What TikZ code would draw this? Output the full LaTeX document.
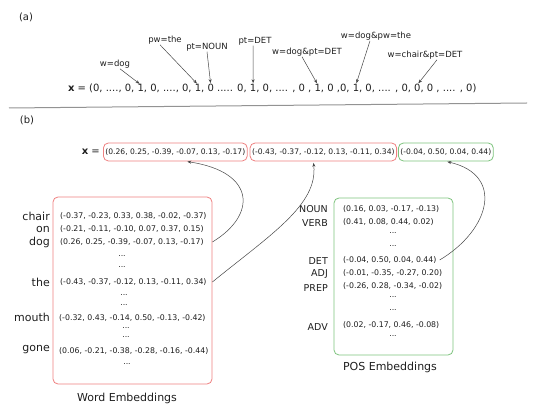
\documentclass[tikz,border=0pt]{standalone}
\usepackage{fontspec}
\setmainfont{DejaVu Sans}
\usetikzlibrary{arrows.meta}
\definecolor{wred}{RGB}{238,128,128}
\definecolor{wgreen}{RGB}{125,195,125}
\definecolor{txt}{RGB}{30,30,30}
\definecolor{arr}{RGB}{70,70,70}
\begin{document}
\begin{tikzpicture}[x=1pt,y=-1pt,
  lab/.style={font=\fontsize{8.5}{10}\selectfont, inner sep=0.5pt, text=txt},
  seg/.style={font=\fontsize{10}{12}\selectfont, inner sep=0pt, outer sep=0pt, anchor=base west, text=txt},
  ptr/.style={draw=arr, line width=0.5pt, -{Stealth[length=4pt,width=3pt]}, shorten >=1.5pt},
  vec/.style={font=\fontsize{7.8}{9}\selectfont, inner sep=0pt, text=txt, anchor=west},
  dotsn/.style={font=\fontsize{7.8}{9}\selectfont, inner sep=0pt, text=txt},
  wlab/.style={font=\fontsize{11}{12}\selectfont, inner sep=0pt, anchor=east, text=txt},
  plab/.style={font=\fontsize{9.5}{11}\selectfont, inner sep=0pt, anchor=east, text=txt},
  title/.style={font=\fontsize{11}{12}\selectfont, inner sep=0pt, text=txt},
  panel/.style={font=\fontsize{10}{12}\selectfont, inner sep=0pt, text=txt},
  redbox/.style={draw=wred, line width=0.8pt, rounded corners=5pt},
  greenbox/.style={draw=wgreen, line width=0.8pt, rounded corners=5pt},
  vbox/.style={font=\fontsize{7.6}{9}\selectfont, inner xsep=2pt, inner ysep=0pt, minimum height=18pt, text=txt, anchor=west},
]
\useasboundingbox (0,0) rectangle (538,419);

% ---------- panel (a)
\node[panel] (pa) at (26,17) {(a)};
\node[seg] (s0) at (68,92) {\textbf{x} = (0, ...., 0, \mbox{}};
\node[seg] (t1) at (s0.base east) {1};
\node[seg] (s1) at (t1.base east) {, 0, ...., 0, \mbox{}};
\node[seg] (t2) at (s1.base east) {1};
\node[seg] (s2) at (t2.base east) {, \mbox{}};
\node[seg] (t3) at (s2.base east) {0};
\node[seg] (s3) at (t3.base east) {\mbox{} ..... 0, \mbox{}};
\node[seg] (t4) at (s3.base east) {1};
\node[seg] (s4) at (t4.base east) {, 0, .... , 0 , \mbox{}};
\node[seg] (t5) at (s4.base east) {1};
\node[seg] (s5) at (t5.base east) {, 0 ,0, \mbox{}};
\node[seg] (t6) at (s5.base east) {1};
\node[seg] (s6) at (t6.base east) {, 0, .... , 0, \mbox{}};
\node[seg] (t7) at (s6.base east) {0};
\node[seg] (s7) at (t7.base east) {, 0 , .... , 0)};

\node[lab] (l1) at (115,64) {w=dog};
\node[lab] (l2) at (165,40) {pw=the};
\node[lab] (l3) at (207,47) {pt=NOUN};
\node[lab] (l4) at (255,41) {pt=DET};
\node[lab] (l5) at (307,52) {w=dog\&pt=DET};
\node[lab] (l6) at (376,36) {w=dog\&pw=the};
\node[lab] (l7) at (425,55) {w=chair\&pt=DET};

\draw[ptr] ([xshift=5pt]l1.south) -- (t1.north);
\draw[ptr] ([xshift=-5pt]l2.south) -- (t2.north);
\draw[ptr] (l3.south) -- (t3.north);
\draw[ptr] ([xshift=-2pt]l4.south) -- (t4.north);
\draw[ptr] ([xshift=-5pt]l5.south) -- (t5.north);
\draw[ptr] ([xshift=-6pt]l6.south) -- (t6.north);
\draw[ptr] ([xshift=12pt]l7.south) -- (t7.north);

% separator
\draw[gray!85, line width=1pt] (9,108) -- (527,103);

% ---------- panel (b)
\node[panel] (pb) at (27,120) {(b)};
\node[panel, anchor=east] (xeq) at (100,152) {\textbf{x} =};
\node[vbox, redbox] (b1) at (103,152) {(0.26, 0.25, -0.39, -0.07, 0.13, -0.17)};
\node[vbox, redbox] (b2) at ([xshift=2pt]b1.east) {(-0.43, -0.37, -0.12, 0.13, -0.11, 0.34)};
\node[vbox, greenbox] (b3) at ([xshift=1pt]b2.east) {(-0.04, 0.50, 0.04, 0.44)};

% word embeddings
\node[redbox, minimum width=159pt, minimum height=187pt, inner sep=0pt] (wordbox) at (132.5,290.5) {};
\node[title] (wtitle) at (127,398) {Word Embeddings};

\node[wlab] (wchair) at (50,216) {chair};
\node[vec] (vchair) at (60,216) {(-0.37, -0.23, 0.33, 0.38, -0.02, -0.37)};
\node[wlab] (won) at (50,229) {on};
\node[vec] (von) at (60,229) {(-0.21, -0.11, -0.10, 0.07, 0.37, 0.15)};
\node[wlab] (wdog) at (50,242) {dog};
\node[vec] (vdog) at (60,242) {(0.26, 0.25, -0.39, -0.07, 0.13, -0.17)};
\node[dotsn] (wd1) at (122,256) {...};
\node[dotsn] (wd2) at (122,267) {...};
\node[wlab] (wthe) at (50,282) {the};
\node[vec] (vthe) at (60,282) {(-0.43, -0.37, -0.12, 0.13, -0.11, 0.34)};
\node[dotsn] (wd3) at (124,295) {...};
\node[dotsn] (wd4) at (124,305) {...};
\node[wlab] (wmouth) at (50,317) {mouth};
\node[vec] (vmouth) at (59,318) {(-0.32, 0.43, -0.14, 0.50, -0.13, -0.42)};
\node[dotsn] (wd5) at (126,328) {...};
\node[dotsn] (wd6) at (126,337) {...};
\node[wlab] (wgone) at (50,350) {gone};
\node[vec] (vgone) at (59,351) {(0.06, -0.21, -0.38, -0.28, -0.16, -0.44)};
\node[dotsn] (wd7) at (127,364) {...};

% POS embeddings
\node[greenbox, minimum width=119pt, minimum height=157pt, inner sep=0pt] (posbox) at (393.5,276.5) {};
\node[title] (ptitle) at (390,367) {POS Embeddings};

\node[plab] (pnoun) at (328,209) {NOUN};
\node[vec] (vnoun) at (343,209) {(0.16, 0.03, -0.17, -0.13)};
\node[plab] (pverb) at (328,223) {VERB};
\node[vec] (vverb) at (343,222) {(0.41, 0.08, 0.44, 0.02)};
\node[dotsn] (pd1) at (393,233) {...};
\node[dotsn] (pd2) at (393,246) {...};
\node[plab] (pdet) at (328,261) {DET};
\node[vec] (vdet) at (343,260) {(-0.04, 0.50, 0.04, 0.44)};
\node[plab] (padj) at (328,274) {ADJ};
\node[vec] (vadj) at (343,273) {(-0.01, -0.35, -0.27, 0.20)};
\node[plab] (pprep) at (328,288) {PREP};
\node[vec] (vprep) at (343,286) {(-0.26, 0.28, -0.34, -0.02)};
\node[dotsn] (pd3) at (393,297) {...};
\node[dotsn] (pd4) at (393,310) {...};
\node[plab] (padv) at (328,327) {ADV};
\node[vec] (vadv) at (343,325) {(0.02, -0.17, 0.46, -0.08)};
\node[dotsn] (pd5) at (393,336) {...};

% curved connectors
\draw[ptr] (wordbox.east |- vdog.east) .. controls (257,215) and (256,172) .. ([xshift=10.5pt]b1.south);
\draw[ptr] (wordbox.east |- vthe.east) .. controls (270,235) and (318,205) .. ([xshift=-10pt]b2.south);
\draw[ptr] ([xshift=3pt]vdet.east) .. controls (490,230) and (505,175) .. (b3.south);
\end{tikzpicture}
\end{document}
